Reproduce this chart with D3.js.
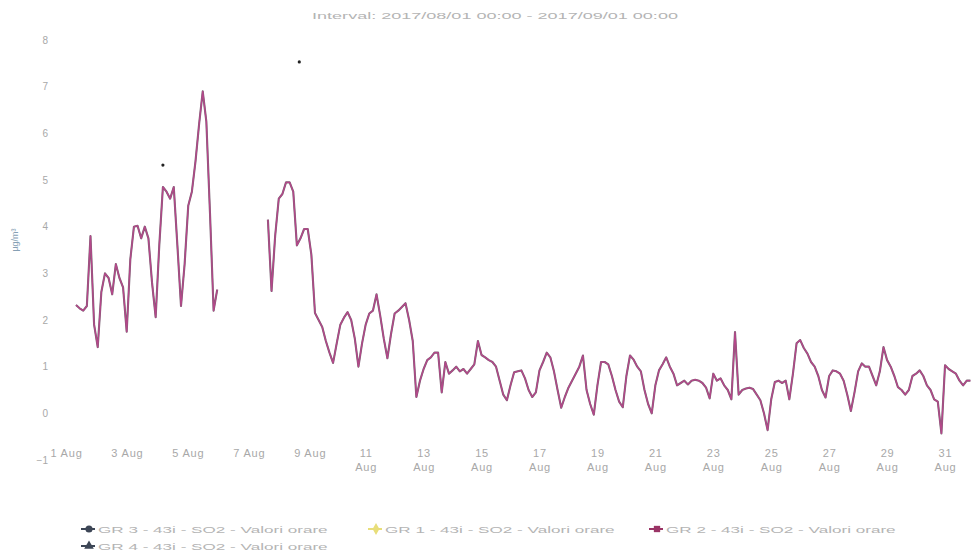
<!DOCTYPE html>
<html>
<head>
<meta charset="utf-8">
<script src="https://cdn.jsdelivr.net/npm/d3@7"></script>
<style>
  body { margin: 0; background: #fff; }
  text { font-family: "Liberation Sans", Arial, sans-serif; }
</style>
</head>
<body>
<div id="chart"></div>
<script>
// GR 2 - SO2 hourly values, sampled every 3 hours from 2017-08-01 00:00 (8 values per day)
var gr2Values = [
  2.32, 2.25, 2.2, 2.3, 3.8, 1.9, 1.42, 2.6,       // 1 Aug
  3.0, 2.9, 2.55, 3.2, 2.9, 2.7, 1.75, 3.3,        // 2
  4.0, 4.02, 3.75, 4.0, 3.75, 2.8, 2.06, 3.6,      // 3
  4.85, 4.75, 4.6, 4.85, 3.6, 2.3, 3.2, 4.45,      // 4
  4.75, 5.4, 6.2, 6.9, 6.25, 4.3, 2.2, 2.65,       // 5
  null, null, null, null, null, null, null, null,  // 6
  null, null, null, null, null, 4.15, 2.62, 3.8,   // 7
  4.6, 4.7, 4.95, 4.95, 4.75, 3.6, 3.75, 3.95,     // 8
  3.95, 3.4, 2.15, 2.0, 1.85, 1.55, 1.3, 1.08,     // 9
  1.5, 1.9, 2.05, 2.17, 2.0, 1.6, 1.0, 1.5,        // 10
  1.9, 2.14, 2.2, 2.55, 2.1, 1.6, 1.18, 1.7,       // 11
  2.14, 2.2, 2.28, 2.36, 2.0, 1.55, 0.35, 0.7,     // 12
  0.95, 1.14, 1.2, 1.3, 1.3, 0.45, 1.1, 0.85,      // 13
  0.92, 1.0, 0.9, 0.95, 0.85, 0.95, 1.05, 1.55,    // 14
  1.25, 1.2, 1.14, 1.1, 1.0, 0.7, 0.4, 0.28,       // 15
  0.6, 0.88, 0.9, 0.92, 0.75, 0.5, 0.35, 0.45,     // 16
  0.92, 1.1, 1.3, 1.2, 0.9, 0.5, 0.12, 0.35,       // 17
  0.55, 0.7, 0.85, 1.0, 1.24, 0.5, 0.2, -0.03,     // 18
  0.6, 1.1, 1.1, 1.05, 0.8, 0.5, 0.25, 0.13,       // 19
  0.8, 1.24, 1.15, 1.0, 0.9, 0.5, 0.2, 0.0,        // 20
  0.6, 0.92, 1.05, 1.2, 1.0, 0.85, 0.6, 0.65,      // 21
  0.7, 0.62, 0.7, 0.72, 0.7, 0.65, 0.55, 0.32,     // 22
  0.85, 0.7, 0.75, 0.6, 0.5, 0.3, 1.74, 0.4,       // 23
  0.5, 0.53, 0.55, 0.52, 0.4, 0.28, 0.0, -0.36,    // 24
  0.3, 0.67, 0.7, 0.65, 0.7, 0.3, 0.85, 1.5,       // 25
  1.57, 1.4, 1.28, 1.1, 1.0, 0.8, 0.5, 0.34,       // 26
  0.8, 0.92, 0.9, 0.85, 0.7, 0.4, 0.05, 0.45,      // 27
  0.9, 1.07, 1.0, 1.0, 0.8, 0.6, 0.9, 1.42,        // 28
  1.14, 1.0, 0.8, 0.56, 0.5, 0.4, 0.5, 0.8,        // 29
  0.85, 0.92, 0.8, 0.6, 0.5, 0.3, 0.25, -0.43,     // 30
  1.03, 0.95, 0.9, 0.85, 0.7, 0.6, 0.7, 0.7        // 31
]
var stepHours = 3

// isolated points of the other stations: [hour since start, value]
var gr3Points = [[72, 5.32], [185, 7.53]]

var yTicks = [-1, 0, 1, 2, 3, 4, 5, 6, 7, 8]
var xTickDays = [1, 3, 5, 7, 9, 11, 13, 15, 17, 19, 21, 23, 25, 27, 29, 31]
var legendNames = [
  "GR 3 - 43i - SO2 - Valori orare",
  "GR 1 - 43i - SO2 - Valori orare",
  "GR 2 - 43i - SO2 - Valori orare",
  "GR 4 - 43i - SO2 - Valori orare"
]
var legendColors = ["#3d4656", "#e8de7a", "#9a3466", "#3d4656"]
var legendSymbols = [d3.symbolCircle, d3.symbolDiamond, d3.symbolSquare, d3.symbolTriangle]

var width = 974
var height = 551
var start = new Date(Date.UTC(2017, 7, 1))
var end = new Date(Date.UTC(2017, 8, 1))

var svg = d3.select("#chart").append("svg")
  .attr("width", width)
  .attr("height", height)

var x = d3.scaleUtc().domain([start, end]).range([76, 974])
var y = d3.scaleLinear().domain([-1, 8]).range([460, 40])

var hourDate = function(h) { return new Date(start.getTime() + h * 3600000) }

var data = gr2Values.map(function(v, i) { return { t: hourDate(i * stepHours), v: v } })

// title (the reference text is stretched wide)
svg.append("text")
  .attr("transform", "translate(495,19) scale(1.9,1)")
  .attr("text-anchor", "middle")
  .style("font-size", "9.5px")
  .style("fill", "#b4b4b4")
  .text("Interval: 2017/08/01 00:00 - 2017/09/01 00:00")

// y axis
var yAxis = d3.axisLeft(y).tickValues(yTicks).tickSize(0).tickPadding(0)
var gy = svg.append("g").attr("transform", "translate(48,0)").call(yAxis)
gy.select(".domain").remove()
gy.selectAll("text").style("font-size", "10px").style("fill", "#a8a8a8")
  .style("font-family", "Liberation Sans, Arial, sans-serif")

svg.append("text")
  .attr("transform", "translate(18,240) rotate(-90)")
  .attr("text-anchor", "middle")
  .style("font-size", "9px")
  .style("fill", "#86a0b4")
  .text("µg/m³")

// x axis
var xAxis = d3.axisBottom(x)
  .tickValues(xTickDays.map(function(d) { return new Date(Date.UTC(2017, 7, d)) }))
  .tickSize(0).tickPadding(0)
  .tickFormat("")
var gx = svg.append("g").attr("transform", "translate(0,446)").call(xAxis)
gx.select(".domain").remove()
gx.selectAll(".tick").each(function(d) {
  var day = d.getUTCDate()
  var t = d3.select(this).append("text")
    .attr("text-anchor", "middle")
    .style("font-size", "11px")
    .style("letter-spacing", "0.8px")
    .style("fill", "#a8a8a8")
  if (day < 11) {
    t.attr("x", -4 + (day - 5) * 1.5).attr("y", 11).text(day + " Aug")
  } else {
    t.append("tspan").attr("x", 0).attr("y", 11).text(day)
    t.append("tspan").attr("x", 0).attr("y", 25).text("Aug")
  }
})

// line: GR 2 with the overlapping darker GR 4 trace beneath
var line = d3.line()
  .defined(function(d) { return d.v != null })
  .x(function(d) { return x(d.t) })
  .y(function(d) { return y(d.v) })

svg.append("path")
  .datum(data)
  .attr("d", line)
  .attr("fill", "none")
  .attr("stroke", "#7a6474")
  .attr("stroke-width", 2.1)
  .attr("stroke-linejoin", "round")

svg.append("path")
  .datum(data)
  .attr("d", line)
  .attr("fill", "none")
  .attr("stroke", "#b5478a")
  .attr("stroke-width", 1.3)
  .attr("stroke-linejoin", "round")

svg.selectAll(".pt")
  .data(gr3Points)
  .enter()
  .append("circle")
  .attr("cx", function(d) { return x(hourDate(d[0])) })
  .attr("cy", function(d) { return y(d[1]) })
  .attr("r", 1.6)
  .attr("fill", "#222")

// legend
var legendPos = [[89, 529], [376, 529], [657, 529], [89, 546]]
legendNames.forEach(function(name, i) {
  var g = svg.append("g").attr("transform", "translate(" + legendPos[i][0] + "," + legendPos[i][1] + ")")
  g.append("line").attr("x1", -8).attr("x2", 6)
    .attr("stroke", legendColors[i]).attr("stroke-width", 2)
  g.append("path")
    .attr("d", d3.symbol().type(legendSymbols[i]).size(40))
    .attr("fill", legendColors[i])
  g.append("text")
    .attr("transform", "translate(9,4) scale(1.8,1)")
    .style("font-size", "9.5px")
    .style("fill", "#b4b4b4")
    .text(name)
})
</script>
</body>
</html>
